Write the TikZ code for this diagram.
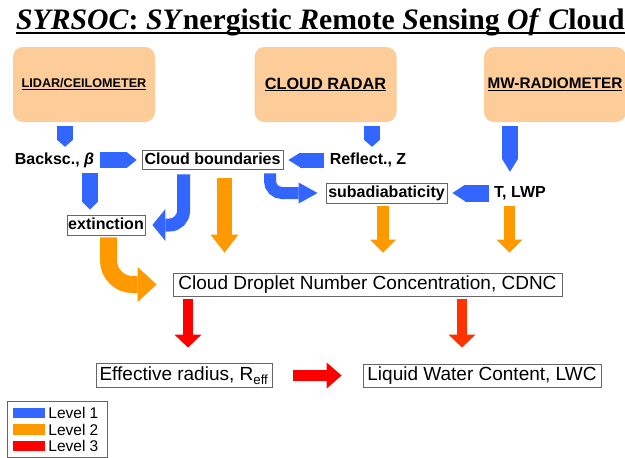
\documentclass[tikz,border=0pt]{standalone}
\usepackage{fontspec}
\setmainfont{Liberation Sans}
\newfontfamily\ttlfont{Liberation Serif}
\usepackage{tikz}
\usetikzlibrary{arrows.meta, positioning}

\definecolor{srcfill}{RGB}{252,204,153}
\definecolor{lvlblue}{RGB}{51,102,255}
\definecolor{lvlorange}{RGB}{255,153,0}
\definecolor{lvlred}{RGB}{255,0,0}
\definecolor{lvlredor}{RGB}{255,51,0}
\newcommand{\setfs}[1]{\fontsize{#1}{#1}\selectfont}

\tikzset{
  head/.style 2 args={-{Triangle[width=#1,length=#2,line width=0pt]}},
  swatch/.style={minimum width=32pt, minimum height=10.5pt, inner sep=0pt},
  leglbl/.style={font=\setfs{15.5}, inner sep=0pt},
}

\begin{document}
\begin{tikzpicture}[x=1pt, y=-1pt,
    src/.style={rounded corners=10pt, fill=srcfill, minimum width=142pt, minimum height=75pt, font=\bfseries},
    lbl/.style={font=\bfseries\setfs{16}, inner sep=0pt, text height=12pt, text depth=3.5pt},
    qty/.style={draw=black!60, line width=0.8pt, inner sep=0pt, text height=12pt, text depth=3.5pt, font=\bfseries\setfs{16}},
    res/.style={qty, font=\setfs{19}, text height=14pt, text depth=4pt},
    l1/.style={draw=lvlblue}, l2/.style={draw=lvlorange}, l3/.style={draw=lvlred}]
  \useasboundingbox[fill=white] (0,0) rectangle (625,458);

  % title
  \node[anchor=base west, inner sep=0pt, font=\ttlfont\bfseries\setfs{29.7}] (title) at (16,29)
    {\textit{SYRSOC}: \textit{SY}nergistic \textit{R}emote \textit{S}ensing \textit{Of} \textit{C}loud};
  \draw[line width=2pt] ([yshift=-4pt]title.base west) -- ([yshift=-4pt]title.base east);

  % instruments
  \node[src] (lidar) at (84,84.5) {\setfs{12.6}\underline{LIDAR/CEILOMETER}};
  \node[src] (radar) at (325.5,84.5) {\setfs{16.3}\underline{CLOUD RADAR}};
  \node[src] (mwr) at (555,84.5) {\setfs{15.3}\underline{MW-RADIOMETER}};

  % measured and retrieved quantities
  \node[lbl] (backsc) at (54.5,160) {Backsc., \textit{β}};
  \node[qty, minimum width=141pt, minimum height=19pt] (cb) at (212.5,160) {Cloud boundaries};
  \node[lbl] (reflect) at (368,160) {Reflect., Z};
  \node[lbl] (tlwp) at (520,193) {T, LWP};
  \node[qty, minimum width=121pt, minimum height=20pt] (subad) at (386.5,193) {subadiabaticity};
  \node[qty, minimum width=78pt, minimum height=20pt] (ext) at (106,225) {extinction};
  \node[res, minimum width=389pt, minimum height=23pt] (cdnc) at (367.5,284.5) {Cloud Droplet Number Concentration, CDNC};
  \node[res, minimum width=176pt, minimum height=24pt] (reff) at (184,375.5) {Effective radius, R\textsubscript{eff}};
  \node[res, minimum width=238pt, minimum height=23pt] (lwc) at (482,375.5) {Liquid Water Content, LWC};

  % level 1
  \draw[l1, line width=16pt, head={16pt}{7pt}] ([xshift=-19pt,yshift=-4pt]lidar.south) -- ([xshift=10.5pt,yshift=5.25pt]backsc.north);
  \draw[l1, line width=16pt, head={16pt}{7pt}] ([xshift=46.5pt,yshift=-4pt]radar.south) -- ([xshift=4pt,yshift=5.25pt]reflect.north);
  \draw[l1, line width=16pt, head={16pt}{13pt}] ([xshift=-45pt,yshift=-4pt]mwr.south) -- ([xshift=-10pt,yshift=13.25pt]tlwp.north);
  \draw[l1, line width=16pt, head={16pt}{10pt}] ([xshift=6pt]backsc.east) -- ([xshift=-5pt]cb.west);
  \draw[l1, line width=15pt, head={15pt}{12pt}] ([xshift=-6pt]reflect.west) -- ([xshift=5pt]cb.east);
  \draw[l1, line width=17pt, head={17pt}{13pt}] ([xshift=-5.5pt]tlwp.west) -- ([xshift=5pt]subad.east);
  \draw[l1, line width=16pt, head={16pt}{8pt}] ([xshift=35.5pt,yshift=-5.25pt]backsc.south) -- ([xshift=-16pt,yshift=5pt]ext.north);
  \draw[l1, line width=13pt, head={32pt}{13pt}, rounded corners=14pt] ([xshift=-29pt,yshift=-4.5pt]cb.south) |- ([xshift=7pt]ext.east);
  \draw[l1, line width=12pt, head={21pt}{19pt}, rounded corners=12pt] ([xshift=57.5pt,yshift=-3.5pt]cb.south) |- ([xshift=-8pt]subad.west);

  % level 2
  \draw[l2, line width=15pt, head={28pt}{18pt}] ([xshift=12pt,yshift=-8.5pt]cb.south) -- ([xshift=-143pt,yshift=20pt]cdnc.north);
  \draw[l2, line width=12pt, head={26pt}{13pt}] ([xshift=-3.5pt,yshift=-3pt]subad.south) -- ([xshift=15.5pt,yshift=20pt]cdnc.north);
  \draw[l2, line width=11pt, head={26pt}{13pt}] ([xshift=-10.5pt,yshift=-5.25pt]tlwp.south) -- ([xshift=142pt,yshift=20pt]cdnc.north);
  \draw[l2, line width=17pt, head={35pt}{19pt}, rounded corners=24pt] ([xshift=2.5pt,yshift=-2pt]ext.south) |- ([xshift=-16pt]cdnc.west);

  % level 3
  \draw[l3, line width=10pt, head={27pt}{13pt}] ([xshift=-179.5pt,yshift=-3pt]cdnc.south) -- ([xshift=4pt,yshift=15.5pt]reff.north);
  \draw[draw=lvlredor, line width=10pt, head={27pt}{13pt}] ([xshift=94.5pt,yshift=-3pt]cdnc.south) -- ([xshift=-20pt,yshift=16pt]lwc.north);
  \draw[l3, line width=11pt, head={26pt}{15pt}] ([xshift=21pt]reff.east) -- ([xshift=-21pt]lwc.west);

  % legend
  \node[draw=black!60, line width=0.8pt, minimum width=100pt, minimum height=56pt, inner sep=0pt] (legend) at (57,429) {};
  \node[swatch, fill=lvlblue] (sw1) at (29,413) {};
  \node[swatch, fill=lvlorange] (sw2) at (29,429.5) {};
  \node[swatch, fill=lvlred] (sw3) at (29,446) {};
  \node[leglbl, right=3pt of sw1] (lv1) {Level 1};
  \node[leglbl, right=3pt of sw2] (lv2) {Level 2};
  \node[leglbl, right=3pt of sw3] (lv3) {Level 3};
\end{tikzpicture}
\end{document}
